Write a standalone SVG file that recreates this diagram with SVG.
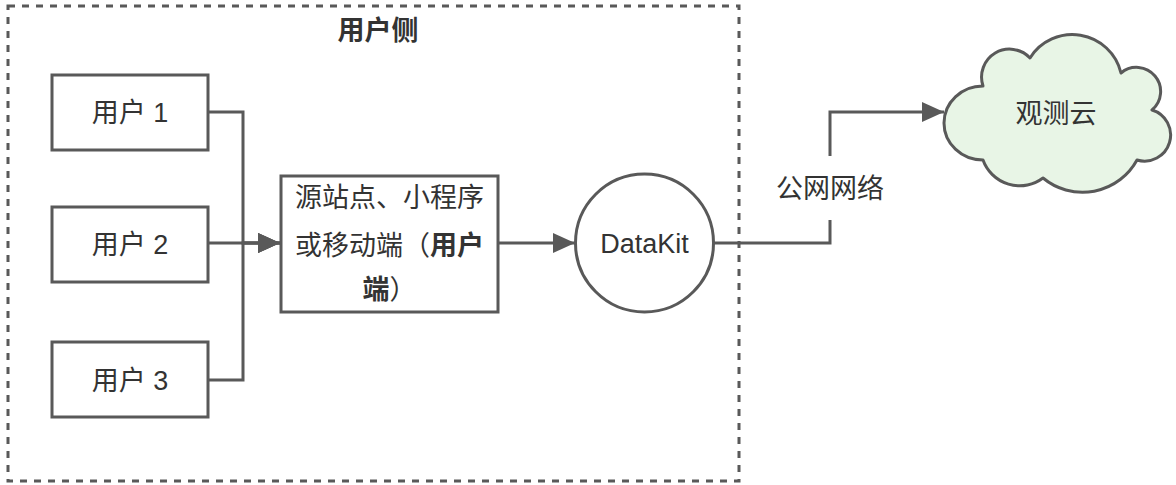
<svg xmlns="http://www.w3.org/2000/svg" width="1176" height="485" viewBox="0 0 1176 485">
  <defs>
    <style>
      .t { font-family: "Liberation Sans", "Noto Sans CJK SC", sans-serif; font-size: 27px; fill: #333333; text-anchor: middle; }
      .b { font-weight: bold; }
      .node { fill: #ffffff; stroke: #595959; stroke-width: 3; }
      .edge { fill: none; stroke: #595959; stroke-width: 3; }
    </style>
    <marker id="arrow" markerUnits="userSpaceOnUse" markerWidth="22" markerHeight="20" refX="22" refY="10" orient="auto" viewBox="0 0 22 20">
      <path d="M0,0 L22,10 L0,20 Z" fill="#595959"/>
    </marker>
  </defs>
  <rect width="1176" height="485" fill="#ffffff"/>

  <g id="user-side">
    <rect x="8" y="6" width="731" height="475" fill="none" stroke="#595959" stroke-width="3" stroke-dasharray="7 7"/>
    <text class="t b" x="378" y="40">用户侧</text>
  </g>

  <g id="connectors">
    <polyline class="edge" points="208,112 243,112 243,243 280,243" marker-end="url(#arrow)"/>
    <polyline class="edge" points="208,380 243,380 243,243 280,243" marker-end="url(#arrow)"/>
    <polyline class="edge" points="208,243 280,243" marker-end="url(#arrow)"/>
    <polyline class="edge" points="498,243 575,243" marker-end="url(#arrow)"/>
    <polyline class="edge" points="713,243 830,243 830,112 944,112" marker-end="url(#arrow)"/>
    <rect x="772" y="156" width="116" height="64" fill="#ffffff"/>
    <text class="t" x="830" y="198">公网网络</text>
  </g>

  <g id="user1">
    <rect class="node" x="52" y="75" width="156" height="75"/>
    <text class="t" x="130" y="122">用户 1</text>
  </g>
  <g id="user2">
    <rect class="node" x="52" y="207" width="156" height="75"/>
    <text class="t" x="130" y="254">用户 2</text>
  </g>
  <g id="user3">
    <rect class="node" x="52" y="342" width="156" height="75"/>
    <text class="t" x="130" y="390">用户 3</text>
  </g>

  <g id="client">
    <rect class="node" x="281" y="176" width="217" height="136"/>
    <text class="t" x="389.5" y="207">源站点、小程序</text>
    <text class="t" x="389.5" y="255">或移动端（<tspan class="b">用户</tspan></text>
    <text class="t" x="389.5" y="299"><tspan class="b">端</tspan>）</text>
  </g>

  <g id="datakit">
    <circle class="node" cx="644.5" cy="243" r="69"/>
    <text class="t" x="644.5" y="253">DataKit</text>
  </g>

  <g id="cloud">
    <path d="M983,160 A39 37 0 0 1 983,86 A28 28 0 0 1 1030,58 A50 50 0 0 1 1121,73 A24 24 0 0 1 1152,110 A26 26 0 0 1 1137,160 A62 62 0 0 1 1043,178 A39 39 0 0 1 983,160 Z" fill="#e8f5e6" stroke="#595959" stroke-width="3" stroke-linejoin="round"/>
    <text class="t" x="1056" y="123">观测云</text>
  </g>
</svg>
